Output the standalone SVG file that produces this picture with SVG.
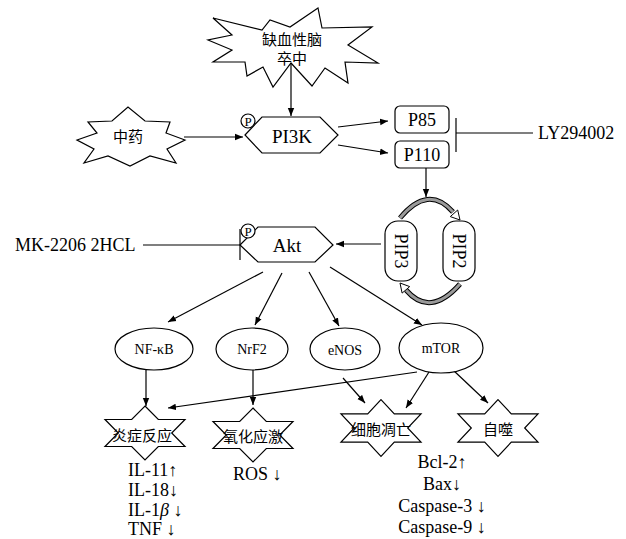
<svg xmlns="http://www.w3.org/2000/svg" width="626" height="539" viewBox="0 0 626 539">
<style>
.shape{fill:#fff;stroke:#000;stroke-width:1.2}
.ln{fill:none;stroke:#000;stroke-width:1.2}
.t{font-family:"Liberation Serif","Noto Sans CJK SC",serif;fill:#000;text-anchor:middle;dominant-baseline:central}
.tl{font-family:"Liberation Serif","Noto Sans CJK SC",serif;fill:#000;font-size:18px}
.cjk{font-family:"Noto Sans CJK SC","Liberation Serif",sans-serif;fill:#000;text-anchor:middle;dominant-baseline:central;font-size:15px}
.p{font-family:"Liberation Serif",serif;font-size:13px;fill:#000;text-anchor:middle;dominant-baseline:central}
.band{fill:none;stroke:#000;stroke-width:5}
.bandf{fill:none;stroke:#9a9a9a;stroke-width:3}
</style>
<defs>
<marker id="ah" viewBox="0 0 10 10" refX="10" refY="5" markerWidth="8" markerHeight="8" orient="auto" markerUnits="userSpaceOnUse">
<path d="M0,1 L10,5 L0,9 z" fill="#000"/>
</marker>
<polygon id="hex6" points="0,-27 13.3,-13.5 40,-13.5 26.7,0 40,13.5 13.3,13.5 0,27 -13.3,13.5 -40,13.5 -26.7,0 -40,-13.5 -13.3,-13.5"/>
</defs>
<rect width="626" height="539" fill="#fff"/>

<g id="connectors">
<line class="ln" x1="291" y1="63" x2="291" y2="116" marker-end="url(#ah)"/>
<line class="ln" x1="184" y1="137" x2="243" y2="137" marker-end="url(#ah)"/>
<line class="ln" x1="338" y1="127" x2="388" y2="121" marker-end="url(#ah)"/>
<line class="ln" x1="338" y1="145" x2="388" y2="153" marker-end="url(#ah)"/>
<line class="ln" x1="456" y1="118" x2="456" y2="152"/>
<line class="ln" x1="456" y1="133" x2="533" y2="133"/>
<line class="ln" x1="426" y1="168" x2="426" y2="197" marker-end="url(#ah)"/>
<line class="ln" x1="381" y1="244" x2="336" y2="244" marker-end="url(#ah)"/>
<line class="ln" x1="143" y1="245" x2="240" y2="245"/>
<line class="ln" x1="240" y1="229" x2="240" y2="260"/>
<line class="ln" x1="263" y1="272" x2="168" y2="322" marker-end="url(#ah)"/>
<line class="ln" x1="282" y1="273" x2="255" y2="325" marker-end="url(#ah)"/>
<line class="ln" x1="309" y1="272" x2="339" y2="326" marker-end="url(#ah)"/>
<line class="ln" x1="330" y1="267" x2="422" y2="325" marker-end="url(#ah)"/>
<line class="ln" x1="146" y1="370" x2="146" y2="406" marker-end="url(#ah)"/>
<line class="ln" x1="253" y1="370" x2="253" y2="405" marker-end="url(#ah)"/>
<line class="ln" x1="417" y1="372" x2="168" y2="408" marker-end="url(#ah)"/>
<line class="ln" x1="343" y1="378" x2="365" y2="403" marker-end="url(#ah)"/>
<line class="ln" x1="429" y1="372" x2="406" y2="408" marker-end="url(#ah)"/>
<line class="ln" x1="453" y1="370" x2="488" y2="403" marker-end="url(#ah)"/>
<path class="band" d="M400,218 Q428,184 453,212"/>
<path class="bandf" d="M400,218 Q428,184 453,212"/>
<polygon points="460,220 450.3,216.6 457.7,210" fill="#fff" stroke="#000" stroke-width="1"/>
<path class="band" d="M460,284 Q430,318 406,290"/>
<path class="bandf" d="M460,284 Q430,318 406,290"/>
<polygon points="400,283 409.7,286.6 402.1,293.1" fill="#fff" stroke="#000" stroke-width="1"/>
</g>

<g id="stroke">
<polygon class="shape" points="318,8 322,28 372,27 348,45 378,63 345,62 348,83 325,68 312,86 291,63 273,87 263,67 247,76 245,62 213,62 232,50 208,40 232,35 213,18 262,30 270,20 290,27"/>
<text class="cjk" x="292" y="38">缺血性脑</text>
<text class="cjk" x="292" y="57">卒中</text>
</g>

<g id="tcm">
<polygon class="shape" points="77,140 97,133 88,122 112,121 128,107 145,121 170,122 166,133 185,140 167,149 176,163 150,156 130,166 108,156 84,163 94,149"/>
<text class="cjk" x="128" y="135">中药</text>
</g>

<g id="pi3k">
<polygon class="shape" points="245,135 262,117 320,117 338,135 320,153 262,153"/>
<text class="t" x="292" y="136" font-size="19">PI3K</text>
<circle class="shape" cx="248" cy="121" r="7"/>
<text class="p" x="248" y="121.5">P</text>
</g>

<g id="p85">
<rect class="shape" x="395" y="106" width="54" height="27" rx="5"/>
<text class="t" x="422" y="120" font-size="18">P85</text>
</g>

<g id="p110">
<rect class="shape" x="395" y="141" width="54" height="27" rx="5"/>
<text class="t" x="422" y="155" font-size="18">P110</text>
</g>

<g id="ly294002">
<text class="tl" x="538" y="139">LY294002</text>
</g>

<g id="pip3">
<rect class="shape" x="385" y="221" width="32" height="60" rx="13"/>
<text class="t" font-size="18" transform="translate(401,251) rotate(90)">PIP3</text>
</g>

<g id="pip2">
<rect class="shape" x="443" y="221" width="32" height="60" rx="13"/>
<text class="t" font-size="18" transform="translate(459,251) rotate(90)">PIP2</text>
</g>

<g id="akt">
<polygon class="shape" points="240,245 258,227 315,227 333,245 315,262 258,262"/>
<text class="t" x="287" y="245" font-size="19">Akt</text>
<circle class="shape" cx="248" cy="231" r="7"/>
<text class="p" x="248" y="231.5">P</text>
</g>

<g id="mk2206">
<text class="tl" x="15" y="251">MK-2206 2HCL</text>
</g>

<g id="nfkb">
<ellipse class="shape" cx="154" cy="349" rx="39" ry="21"/>
<text class="t" x="154" y="349" font-size="14">NF-κB</text>
</g>
<g id="nrf2">
<ellipse class="shape" cx="252" cy="349" rx="36" ry="21"/>
<text class="t" x="252" y="349" font-size="14">NrF2</text>
</g>
<g id="enos">
<ellipse class="shape" cx="345" cy="349" rx="35" ry="21"/>
<text class="t" x="345" y="350" font-size="14">eNOS</text>
</g>
<g id="mtor">
<ellipse class="shape" cx="441" cy="348" rx="42" ry="25"/>
<text class="t" x="441" y="348" font-size="14">mTOR</text>
</g>

<g id="inflammation">
<use href="#hex6" class="shape" transform="translate(145,433)"/>
<text class="cjk" x="142" y="434">炎症反应</text>
<text class="tl" x="128" y="476">IL-11↑</text>
<text class="tl" x="128" y="496">IL-18↓</text>
<text class="tl" x="128" y="516">IL-1<tspan font-style="italic">β</tspan> ↓</text>
<text class="tl" x="128" y="535">TNF ↓</text>
</g>

<g id="oxidative">
<use href="#hex6" class="shape" transform="translate(253,435)"/>
<text class="cjk" x="253" y="435">氧化应激</text>
<text class="tl" x="233" y="480">ROS ↓</text>
</g>

<g id="apoptosis">
<use href="#hex6" class="shape" transform="translate(381,428) scale(1,1.05)"/>
<text class="cjk" x="381" y="428">细胞凋亡</text>
<text class="tl" x="442" y="468" text-anchor="middle">Bcl-2↑</text>
<text class="tl" x="442" y="490" text-anchor="middle">Bax↓</text>
<text class="tl" x="442" y="512" text-anchor="middle">Caspase-3 ↓</text>
<text class="tl" x="442" y="533" text-anchor="middle">Caspase-9 ↓</text>
</g>

<g id="autophagy">
<use href="#hex6" class="shape" transform="translate(498,428) scale(1,1.05)"/>
<text class="cjk" x="498" y="428">自噬</text>
</g>
</svg>
